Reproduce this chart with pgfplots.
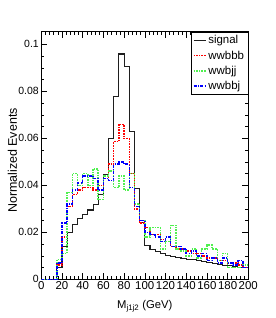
\documentclass[border=0pt]{standalone}
\usepackage{pgfplots}
\pgfplotsset{compat=1.18}
\usepackage{fontspec}
\setmainfont{Liberation Sans}
\definecolor{sgcol}{RGB}{30,30,30}
\definecolor{rcol}{RGB}{255,0,0}
\definecolor{gcol}{RGB}{80,240,80}
\definecolor{bcol}{RGB}{0,0,255}
\begin{document}
\begin{tikzpicture}
\begin{axis}[
  scale only axis, width=207bp, height=247.6bp,
  xmin=0, xmax=200, ymin=0, ymax=0.1054,
  xtick={0,20,...,200},
  ytick={0,0.02,0.04,0.06,0.08,0.1},
  yticklabels={0,0.02,0.04,0.06,0.08,0.1},
  minor x tick num=4, minor y tick num=3,
  tick align=inside,
  major tick length=6bp, minor tick length=3bp,
  tick style={black, line width=0.6pt},
  axis line style={line width=0.8pt},
  yticklabel style={font=\fontsize{10.5}{12}\selectfont, xshift=1bp},
  xticklabel style={font=\fontsize{11.5}{13}\selectfont, yshift=1.5bp, inner xsep=0pt},
  /pgf/number format/assume math mode=true,
  legend style={at={(1,1)}, anchor=north east, draw=black, line width=0.6pt,
    font=\fontsize{11.5}{13}\selectfont, row sep=1.5bp, inner xsep=2bp, inner ysep=1.5bp,
    cells={anchor=west}},
  legend image code/.code={\draw[#1] (0cm,0cm) -- (0.42cm,0cm);},
  clip mode=individual,
]
\addplot[const plot, draw=sgcol, line width=1.1pt] coordinates {
(0,0) (5,0) (10,0) (15,0.005) (20,0.014) (25,0.020) (30,0.0235) (35,0.026) (40,0.0277) (45,0.0295)
(50,0.032) (55,0.036) (60,0.0448) (65,0.060) (70,0.078) (75,0.0959) (80,0.0904) (85,0.063) (90,0.0387) (95,0.024)
(100,0.0143) (105,0.0125) (110,0.0117) (115,0.011) (120,0.0102) (125,0.0097) (130,0.0092) (135,0.0089) (140,0.0086) (145,0.0083)
(150,0.008) (155,0.0076) (160,0.0071) (165,0.0067) (170,0.0063) (175,0.006) (180,0.0058) (185,0.0055) (190,0.0052) (195,0.005) (200,0.005)};
\addlegendentry{signal}
\addplot[const plot, draw=rcol, line width=1.5pt, dash pattern=on 1.6pt off 1pt] coordinates {
(0,0) (5,0) (10,0) (15,0.006) (20,0.018) (25,0.031) (30,0.036) (35,0.038) (40,0.039) (45,0.039)
(50,0.038) (55,0.040) (60,0.043) (65,0.049) (70,0.0586) (75,0.066) (80,0.060) (85,0.045) (90,0.030) (95,0.024)
(100,0.022) (105,0.019) (110,0.019) (115,0.017) (120,0.016) (125,0.014) (130,0.013) (135,0.013) (140,0.012) (145,0.011)
(150,0.011) (155,0.010) (160,0.009) (165,0.009) (170,0.008) (175,0.008) (180,0.007) (185,0.007) (190,0.006) (195,0.005) (200,0.005)};
\addlegendentry{wwbbb}
\addplot[const plot, draw=gcol, line width=1.5pt, dash pattern=on 1.6pt off 1pt] coordinates {
(0,0) (5,0) (10,0) (15,0.0085) (20,0.011) (25,0.037) (30,0.045) (35,0.040) (40,0.045) (45,0.040)
(50,0.047) (55,0.034) (60,0.044) (65,0.046) (70,0.039) (75,0.044) (80,0.038) (85,0.045) (90,0.032) (95,0.025)
(100,0.018) (105,0.022) (110,0.022) (115,0.013) (120,0.016) (125,0.023) (130,0.013) (135,0.012) (140,0.010) (145,0.013)
(150,0.009) (155,0.013) (160,0.0145) (165,0.013) (170,0.008) (175,0.011) (180,0.005) (185,0.005) (190,0.005) (195,0.006) (200,0.006)};
\addlegendentry{wwbjj}
\addplot[const plot, draw=bcol, line width=1.5pt, dash pattern=on 3pt off 1.3pt on 1pt off 1.3pt] coordinates {
(0,0) (5,0) (10,0) (15,0.007) (20,0.024) (25,0.032) (30,0.038) (35,0.041) (40,0.044) (45,0.044)
(50,0.043) (55,0.038) (60,0.043) (65,0.042) (70,0.049) (75,0.050) (80,0.049) (85,0.039) (90,0.031) (95,0.025)
(100,0.020) (105,0.019) (110,0.018) (115,0.016) (120,0.018) (125,0.014) (130,0.014) (135,0.013) (140,0.011) (145,0.012)
(150,0.010) (155,0.011) (160,0.008) (165,0.009) (170,0.007) (175,0.009) (180,0.007) (185,0.006) (190,0.008) (195,0.005) (200,0.005)};
\addlegendentry{wwbbj}
\node[rotate=90, anchor=center, font=\fontsize{12.5}{14}\selectfont] at ([xshift=-29bp, yshift=-5bp]rel axis cs:0,0.5) {Normalized Events};
\node[anchor=base, font=\fontsize{11.3}{13}\selectfont] at ([yshift=-29bp]rel axis cs:0.5,0) {M\textsubscript{j1j2} (GeV)};
\end{axis}
\pgfresetboundingbox
\path[use as bounding box] ([shift={(-41.3bp,-38.7bp)}]current axis.south west) rectangle ([shift={(27.7bp,31.7bp)}]current axis.north east);
\end{tikzpicture}
\end{document}
